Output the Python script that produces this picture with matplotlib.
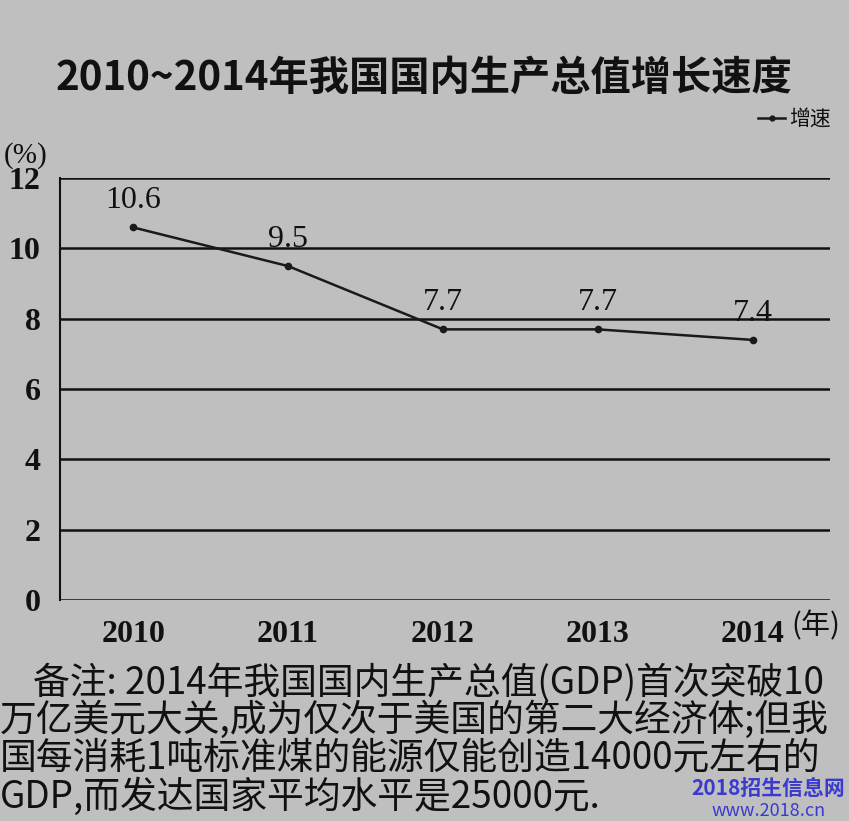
import matplotlib
matplotlib.use("Agg")
import matplotlib.pyplot as plt
from matplotlib.transforms import blended_transform_factory

# GDP growth rate of China, 2010-2014 (%)
years = [2010, 2011, 2012, 2013, 2014]
growth = [10.6, 9.5, 7.7, 7.7, 7.4]
yticks = [0, 2, 4, 6, 8, 10, 12]
xlabels = ["2010", "2011", "2012", "2013", "2014"]

title = "2010~2014年我国国内生产总值增长速度"
note_lines = [
    "    备注: 2014年我国国内生产总值(GDP)首次突破10",
    "万亿美元大关,成为仅次于美国的第二大经济体;但我",
    "国每消耗1吨标准煤的能源仅能创造14000元左右的",
    "GDP,而发达国家平均水平是25000元.",
]

BG = "#bfbfbf"
INK = "#111111"
CJK = ["Noto Sans CJK SC", "DejaVu Sans"]
SERIF = ["Liberation Serif", "Noto Sans CJK SC"]

fig = plt.figure(figsize=(8.49, 8.21), dpi=100, facecolor=BG)
ax = fig.add_axes([0.071, 0.269, 0.907, 0.514], facecolor=BG)

for v in yticks:
    ax.axhline(v, color=INK, lw=1.8, zorder=1)
ax.plot(years, growth, color="#1a1a1a", lw=1.8, marker="o", ms=4.5, zorder=3)
for x, y in zip(years, growth):
    ax.text(x, y + 0.35, f"{y:g}", ha="center", va="bottom", fontsize=23,
            family=SERIF, color=INK, zorder=4)

ax.set_xlim(2009.53, 2014.5)
ax.set_ylim(0, 12)
ax.set_yticks(yticks)
ax.set_yticklabels([str(v) for v in yticks], fontsize=23, family=SERIF,
                   fontweight="bold")
ax.set_xticks(years)
ax.set_xticklabels(xlabels, fontsize=23, family=SERIF, fontweight="bold")
ax.tick_params(length=0, pad=14, colors=INK)
for s in ["top", "right", "bottom"]:
    ax.spines[s].set_visible(False)
ax.spines["left"].set_linewidth(1.5)
ax.spines["left"].set_color(INK)
trans = blended_transform_factory(ax.transData, ax.transAxes)
ax.text(2014.25, -0.027, "(年)", transform=trans, fontsize=21, family=CJK,
        ha="left", va="top", color=INK)

fig.text(0.065, 0.905, title, fontsize=29, fontweight="bold", family=CJK,
         ha="left", va="center", color=INK)
fig.text(0.005, 0.81, "(%)", fontsize=21, family=SERIF, ha="left",
         va="center", color=INK)
# legend: line with a dot in the middle, then label
fig.lines.append(plt.Line2D([0.893, 0.909, 0.925], [0.856, 0.856, 0.856],
                            lw=1.8, color="#1a1a1a", marker="o", ms=3.5,
                            markevery=[1], transform=fig.transFigure))
fig.text(0.93, 0.856, "增速", fontsize=15, family=CJK, ha="left",
         va="center", color=INK)

# note paragraph: first three lines as one block, last (short) line apart
fig.text(0.0, 0.192, "\n".join(note_lines[:3]), fontsize=26.5, family=CJK,
         ha="left", va="top", linespacing=0.95, color=INK)
fig.text(0.0, 0.029, note_lines[3], fontsize=26.5, family=CJK,
         ha="left", va="center", color=INK)

fig.text(0.905, 0.039, "2018招生信息网", fontsize=15, family=CJK,
         fontweight="bold", ha="center", va="center", color="#3a3ad0")
fig.text(0.905, 0.012, "www.2018.cn", fontsize=13, family=CJK,
         ha="center", va="center", color="#3a3ad0")

fig.savefig("out.png", dpi=100, facecolor=BG)
